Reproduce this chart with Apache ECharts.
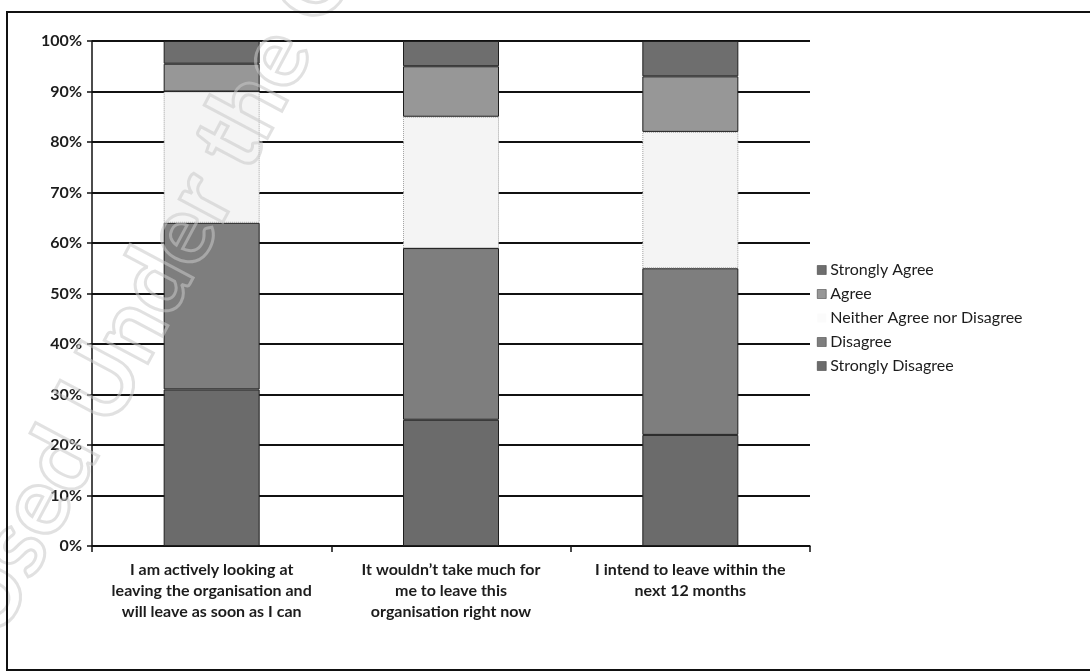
<!DOCTYPE html>
<html>
<head>
<meta charset="utf-8">
<script src="https://cdn.jsdelivr.net/npm/echarts@6/dist/echarts.min.js"></script>
<style>
  html, body { margin: 0; padding: 0; background: #fff; }
  #chart { width: 1090px; height: 672px; }
</style>
</head>
<body>
<div id="chart"></div>
<script>
// Survey statements (x categories)
const categories = [
  'I am actively looking at\nleaving the organisation and\nwill leave as soon as I can',
  'It wouldn\u2019t take much for\nme to leave this\norganisation right now',
  'I intend to leave within the\nnext 12 months'
];

// Response shares (%) per statement, stacked bottom to top
const stronglyDisagree = [31, 25, 22];
const disagree         = [33, 34, 33];
const neither          = [26, 26, 27];
const agree            = [5.5, 10, 11];
const stronglyAgree    = [4.5, 5, 7];

const seriesNames = ['Strongly Disagree', 'Disagree', 'Neither Agree nor Disagree', 'Agree', 'Strongly Agree'];
const legendOrder = ['Strongly Agree', 'Agree', 'Neither Agree nor Disagree', 'Disagree', 'Strongly Disagree'];
const yTicks = [0, 10, 20, 30, 40, 50, 60, 70, 80, 90, 100];

const FONT = 'Lato, "Open Sans", sans-serif';
const seriesData = [stronglyDisagree, disagree, neither, agree, stronglyAgree];
const fills = ['#6b6b6b', '#7e7e7e', '#f4f4f4', '#979797', '#6e6e6e'];

const chart = echarts.init(document.getElementById('chart'), null, { renderer: 'canvas' });

const series = seriesNames.map((name, i) => ({
  name,
  type: 'bar',
  stack: 'total',
  barWidth: 96,
  data: seriesData[i],
  itemStyle: i === 2
    ? { color: fills[i], borderColor: '#a0a0a0', borderWidth: 1, borderType: 'dotted' }
    : { color: fills[i], borderColor: '#1e1e1e', borderWidth: 1 },
  emphasis: { disabled: true }
}));

// Legend entries; the pale "neither" swatch is drawn without an outline
const legendData = legendOrder.map(name => ({
  name,
  itemStyle: name === 'Neither Agree nor Disagree'
    ? { borderWidth: 0, color: '#fbfbfb' }
    : { borderColor: '#333', borderWidth: 0.5 }
}));

chart.setOption({
  animation: false,
  backgroundColor: '#ffffff',
  textStyle: { fontFamily: FONT },
  grid: { left: 92, right: 280, top: 41, bottom: 126, containLabel: false },
  legend: {
    orient: 'vertical',
    left: 812,
    top: 257,
    itemWidth: 9,
    itemHeight: 9,
    itemGap: 8,
    icon: 'rect',
    data: legendData,
    textStyle: { fontFamily: FONT, fontSize: 16, color: '#1c1c1c', padding: [0, 0, 0, -1] }
  },
  xAxis: {
    type: 'category',
    data: categories,
    axisLine: { show: true, lineStyle: { color: '#111', width: 1.5 } },
    axisTick: { show: true, alignWithLabel: false, length: 6, lineStyle: { color: '#111', width: 1.5 } },
    axisLabel: {
      interval: 0,
      margin: 13,
      fontFamily: FONT,
      fontSize: 16,
      fontWeight: 'bold',
      lineHeight: 21,
      color: '#1c1c1c',
      align: 'center'
    },
    splitLine: { show: false }
  },
  yAxis: {
    type: 'value',
    min: yTicks[0],
    max: yTicks[yTicks.length - 1],
    interval: yTicks[1] - yTicks[0],
    axisLine: { show: true, lineStyle: { color: '#111', width: 1.5 } },
    axisTick: { show: true, inside: false, length: 5, lineStyle: { color: '#111', width: 1.5 } },
    axisLabel: {
      formatter: '{value}%',
      margin: 10,
      fontFamily: FONT,
      fontSize: 16,
      fontWeight: 'bold',
      color: '#1c1c1c'
    },
    splitLine: { show: true, lineStyle: { color: '#111', width: 1.8 } }
  },
  series,
  graphic: [
    {
      type: 'rect',
      silent: true,
      z: 100,
      shape: { x: 7, y: 12, width: 1100, height: 658 },
      style: { fill: 'none', stroke: '#111', lineWidth: 2 }
    },
    {
      // faint outlined stamp across the upper-left of the page
      type: 'text',
      silent: true,
      z: 90,
      x: -28,
      y: 628,
      rotation: 62 * Math.PI / 180,
      style: {
        text: 'Used Under the Official',
        font: 'bold 96px ' + FONT,
        fill: 'rgba(255,255,255,0)',
        stroke: 'rgba(200,200,200,0.55)',
        lineWidth: 3,
        textAlign: 'left',
        textVerticalAlign: 'middle'
      }
    }
  ]
});
</script>
</body>
</html>
